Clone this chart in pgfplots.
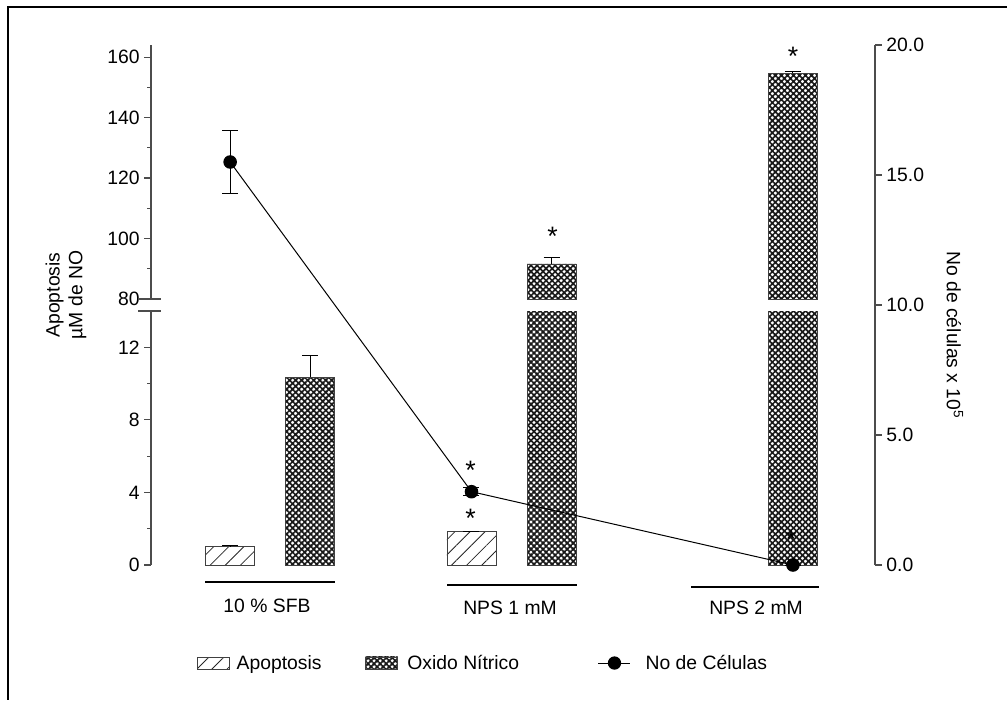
\documentclass[border=0pt]{standalone}
\usepackage{fontspec}
\setmainfont{Liberation Sans}
\usepackage{pgfplots}
\pgfplotsset{compat=1.18}
\usetikzlibrary{patterns.meta}

\tikzset{
  apopat/.style={pattern={Lines[angle=45,distance=8pt,line width=0.6pt]}, pattern color=black!85},
  oxipat/.style={pattern={Hatch[angle=45,distance=3.2pt,line width=1.25pt]}, pattern color=black!90},
  star/.style={font=\fontsize{20}{20}\selectfont, yshift=-4.4pt, inner sep=0pt},
}
\newcommand{\fs}{\fontsize{14.5}{17}\selectfont}

\pgfplotsset{
  common/.style={
    scale only axis, width=543pt,
    xmin=-0.494, xmax=2.506,
    hide x axis,
    axis line style={black!70, line width=0.9pt, -},
    tick align=outside,
    major tick length=5pt, minor tick length=3pt,
    every tick/.style={black!70, line width=0.9pt},
    /pgf/number format/assume math mode=true,
    tick label style={font=\fs},
    legend style={draw=none, fill=none, inner sep=0pt, font=\fs, anchor=west,
      nodes={inner sep=2pt}},
  },
  leftax/.style={common, axis y line*=left, ytick pos=left},
  barerr/.style={error bars/.cd, y dir=plus, y explicit,
      error bar style={black, line width=0.7pt},
      error mark options={rotate=90, mark size=6pt, black, line width=0.7pt}},
}

\begin{document}
\begin{tikzpicture}[font=\fs]
\begin{scope}[x=0.75pt, y=-0.75pt]
\useasboundingbox (0,0) rectangle (1007,700);
% frame
\draw[line width=1.6pt] (1007,7) -- (8,7) -- (8,700);
\end{scope}

% ---------- lower segment of left axis (0-14) ----------
\begin{axis}[leftax, at={(113.25pt,-423.75pt)}, anchor=south west, height=190.5pt,
  ymin=0, ymax=14, ytick={0,4,8,12}, minor ytick={2,6,10},
  legend image code/.code={\draw[#1] (0pt,-4.5pt) rectangle (24pt,4.5pt);},
  legend style={at={(0.0635,-0.386)}}]
\addlegendimage{apopat, draw=black!75, line width=0.6pt}
\addlegendentry{\hspace{3pt}Apoptosis}
% Apoptosis bars
\addplot[forget plot, ybar, bar width=0.203, bar shift=0pt, draw=black!75, line width=0.6pt, apopat, barerr]
  coordinates {(-0.166,1.0) +- (0,0.1) (0.834,1.83) +- (0,0)};
% Oxido Nitrico bars (clipped at the break)
\addplot[forget plot, ybar, bar width=0.203, bar shift=0pt, draw=black!75, line width=0.6pt, oxipat, barerr]
  coordinates {(0.166,10.35) +- (0,1.2) (1.166,91.6) +- (0,0) (2.166,154.6) +- (0,0)};
\end{axis}

% ---------- upper segment of left axis (80-164) ----------
\begin{axis}[leftax, at={(113.25pt,-224.25pt)}, anchor=south west, height=190.5pt,
  ymin=80, ymax=164, ytick={80,100,120,140,160}, minor ytick={90,110,130,150},
  legend image code/.code={\draw[#1] (0pt,-4.5pt) rectangle (24pt,4.5pt);},
  legend style={at={(0.2956,-1.433)}}]
\addlegendimage{oxipat, draw=black!75, line width=0.6pt}
\addlegendentry{\hspace{5pt}Oxido Nítrico}
\addplot[forget plot, ybar, bar width=0.203, bar shift=0pt, draw=black!75, line width=0.6pt, oxipat, barerr]
  coordinates {(1.166,91.6) +- (0,2.2) (2.166,154.6) +- (0,0.6)};
\end{axis}

% ---------- right axis: number of cells ----------
\begin{axis}[common, at={(113.25pt,-423.75pt)}, anchor=south west, height=390pt,
  axis y line*=right, ytick pos=right, clip=false,
  ymin=0, ymax=20, ytick={0,5,10,15,20},
  yticklabel style={/pgf/number format/.cd, fixed, fixed zerofill, precision=1},
  legend image code/.code={\draw[#1] (0pt,0pt) -- (24pt,0pt); \fill[black] (12pt,0pt) circle (4.6pt);},
  legend style={at={(0.617,-0.1885)}}]
\addlegendimage{black, line width=0.75pt}
\addlegendentry{\hspace{9pt}No de Células}
\addplot[forget plot, black, line width=0.75pt, mark=*, mark size=4.7pt,
  error bars/.cd, y dir=both, y explicit,
  error bar style={black, line width=0.7pt},
  error mark options={rotate=90, mark size=6pt, black, line width=0.7pt}]
  coordinates {(-0.166,15.5) +- (0,1.2) (0.834,2.82) +- (0,0.15) (2.166,0) +- (0,0)};
% significance stars
\node[star] at (axis cs:1.17,12.85) {*};
\node[star] at (axis cs:2.166,19.8) {*};
\node[star] at (axis cs:0.83,3.85) {*};
\node[star] at (axis cs:0.83,2.04) {*};
\node[star] at (axis cs:2.158,1.23) {*};
\end{axis}

\begin{scope}[x=0.75pt, y=-0.75pt]
% axis break marks
\fill[white] (146,300) rectangle (156,310);
\draw[black!70, line width=0.9pt] (138,299) -- (161,299);
\draw[black!70, line width=0.9pt] (138,311) -- (161,311);

% y-axis titles
\node[rotate=90, align=center, font=\fs] at (66,295) {Apoptosis\\µM de NO};
\node[rotate=-90, font=\fs] at (955,335) {No de células x 10\textsuperscript{5}};

% group lines and category names
\draw[line width=1.1pt] (205,582) -- (335,582);
\draw[line width=1.1pt] (447,585) -- (577,585);
\draw[line width=1.1pt] (691,587) -- (819,587);
\node at (267,606) {10 \% SFB};
\node at (510,608) {NPS 1 mM};
\node at (756,608) {NPS 2 mM};
\end{scope}
\end{tikzpicture}
\end{document}
